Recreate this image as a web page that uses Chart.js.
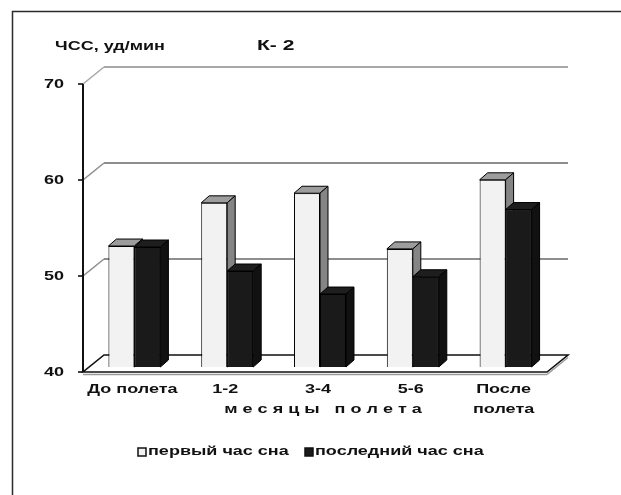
<!DOCTYPE html>
<html>
<head>
<meta charset="utf-8">
<script src="https://cdn.jsdelivr.net/npm/chart.js@4.4.1/dist/chart.umd.min.js"></script>
<style>
  html, body { margin: 0; padding: 0; background: #fff; }
  #wrap { width: 621px; height: 495px; position: relative; }
</style>
</head>
<body>
<div id="wrap"><canvas id="c" width="621" height="495"></canvas></div>
<script>
// Heart rate during sleep, subject K-2
const categories = [['До полета'], ['1-2'], ['3-4'], ['5-6'], ['После', 'полета']];
const firstHour = [52.6, 57.1, 58.1, 52.3, 59.5];
const lastHour = [52.5, 50.0, 47.6, 49.4, 56.4];
const seriesNames = ['первый час сна', 'последний час сна'];
const yTicks = [40, 50, 60, 70];
const yTitle = 'ЧСС, уд/мин';
const chartTitle = 'К- 2';
const xTitle = 'м е с я ц ы   п о л е т а';

// pseudo-3D geometry
const WALL = { x: 21, y: -17 };      // depth of the back wall
const SHIFT = { x: 5, y: -5 };       // bars sit a little behind the front plane
const BAR = { x: 8, y: -7 };         // depth of each column
const SX = 1.5;                      // wide lettering
const FONT = '"Liberation Sans", Arial, sans-serif';

const faceColors = [
  { top: '#9d9d9d', side: '#858585' },
  { top: '#1e1e1e', side: '#111111' }
];

function wideText(ctx, text, x, y, align, font, sx) {
  ctx.save();
  ctx.font = font;
  ctx.textBaseline = 'middle';
  ctx.textAlign = 'left';
  const w = ctx.measureText(text).width * sx;
  const left = align === 'center' ? x - w / 2 : align === 'right' ? x - w : x;
  ctx.translate(left, y);
  ctx.scale(sx, 1);
  ctx.fillStyle = '#111';
  ctx.fillText(text, 0, 0);
  ctx.restore();
}

function line(ctx, x1, y1, x2, y2, color, w) {
  ctx.beginPath();
  ctx.moveTo(x1, y1);
  ctx.lineTo(x2, y2);
  ctx.strokeStyle = color;
  ctx.lineWidth = w;
  ctx.stroke();
}

function drawFaces(ctx, el, fc) {
  const p = el.getProps(['x', 'y', 'base', 'width'], true);
  const l = p.x - p.width / 2, r = p.x + p.width / 2;
  ctx.lineWidth = 1;
  ctx.strokeStyle = '#000';
  // top face
  ctx.beginPath();
  ctx.moveTo(l, p.y);
  ctx.lineTo(l + BAR.x, p.y + BAR.y);
  ctx.lineTo(r + BAR.x, p.y + BAR.y);
  ctx.lineTo(r, p.y);
  ctx.closePath();
  ctx.fillStyle = fc.top;
  ctx.fill();
  ctx.stroke();
  // side face
  ctx.beginPath();
  ctx.moveTo(r, p.y);
  ctx.lineTo(r + BAR.x, p.y + BAR.y);
  ctx.lineTo(r + BAR.x, p.base + BAR.y);
  ctx.lineTo(r, p.base);
  ctx.closePath();
  ctx.fillStyle = fc.side;
  ctx.fill();
  ctx.stroke();
}

const scene = {
  id: 'scene',
  beforeDatasetsDraw(chart) {
    const ctx = chart.ctx;
    const ca = chart.chartArea;
    const ys = chart.scales.y;
    ctx.save();
    // frame
    ctx.strokeStyle = '#2a2a2a';
    ctx.lineWidth = 1.5;
    ctx.strokeRect(12.5, 11.5, 660, 520);

    // floor slab
    const yb = ys.getPixelForValue(yTicks[0]);
    ctx.beginPath();
    ctx.moveTo(ca.left, yb);
    ctx.lineTo(ca.right, yb);
    ctx.lineTo(ca.right + WALL.x, yb + WALL.y);
    ctx.lineTo(ca.left + WALL.x, yb + WALL.y);
    ctx.closePath();
    ctx.fillStyle = '#fff';
    ctx.fill();
    line(ctx, ca.left, yb + 2.5, ca.right, yb + 2.5, '#9a9a9a', 1.5);
    line(ctx, ca.right, yb + 2.5, ca.right + WALL.x, yb + WALL.y + 2.5, '#9a9a9a', 1.5);
    ctx.strokeStyle = '#111';
    ctx.lineWidth = 1.6;
    ctx.beginPath();
    ctx.moveTo(ca.left, yb);
    ctx.lineTo(ca.right, yb);
    ctx.lineTo(ca.right + WALL.x, yb + WALL.y);
    ctx.lineTo(ca.left + WALL.x, yb + WALL.y);
    ctx.closePath();
    ctx.stroke();

    // back wall gridlines and left-wall diagonals
    yTicks.slice(1).forEach(v => {
      const y = ys.getPixelForValue(v);
      const c = v === yTicks[yTicks.length - 1] ? '#a8a8a8' : '#8e8e8e';
      line(ctx, ca.left + WALL.x, y + WALL.y, ca.right + WALL.x, y + WALL.y, c, 2);
      line(ctx, ca.left, y, ca.left + WALL.x, y + WALL.y, c, 1.6);
    });

    // value axis with ticks
    line(ctx, ca.left, ys.getPixelForValue(yTicks[yTicks.length - 1]), ca.left, yb, '#111', 2);
    yTicks.forEach(v => {
      const y = ys.getPixelForValue(v);
      line(ctx, ca.left - 5, y, ca.left, y, '#111', 1.6);
    });
    ctx.restore();
  },
  beforeDatasetDraw(chart) {
    chart.ctx.save();
    chart.ctx.translate(SHIFT.x, SHIFT.y);
  },
  afterDatasetDraw(chart) {
    chart.ctx.restore();
  },
  afterDatasetsDraw(chart) {
    // depth faces, series by series, so a later column covers the side of the one before it
    const ctx = chart.ctx;
    ctx.save();
    ctx.translate(SHIFT.x, SHIFT.y);
    chart.data.datasets.forEach((ds, i) => {
      const meta = chart.getDatasetMeta(i);
      meta.data.forEach(el => {
        if (i > 0) el.draw(ctx);
        drawFaces(ctx, el, faceColors[i]);
      });
    });
    ctx.restore();
  },
  afterDraw(chart) {
    const ctx = chart.ctx;
    const ys = chart.scales.y;
    const xs = chart.scales.x;
    const bold12 = 'bold 12px ' + FONT;

    wideText(ctx, yTitle, 55, 47, 'left', bold12, SX);
    wideText(ctx, chartTitle, 257, 46, 'left', 'bold 15px ' + FONT, 1.4);

    yTicks.forEach(v => {
      wideText(ctx, String(v), 64, ys.getPixelForValue(v) + 1, 'right', bold12, SX);
    });

    categories.forEach((lab, i) => {
      const x = xs.getPixelForValue(i) + 3;
      lab.forEach((s, k) => wideText(ctx, s, x, 390 + k * 20, 'center', bold12, SX));
    });
    wideText(ctx, xTitle, 323, 410, 'center', bold12, SX);

    // legend
    const ds = chart.data.datasets;
    const items = [{ box: 138, text: 148 }, { box: 305, text: 315 }];
    items.forEach((it, i) => {
      ctx.save();
      ctx.fillStyle = ds[i].backgroundColor;
      ctx.strokeStyle = '#111';
      ctx.lineWidth = 1.5;
      ctx.fillRect(it.box, 448, 8, 8);
      ctx.strokeRect(it.box, 448, 8, 8);
      ctx.restore();
      wideText(ctx, ds[i].label, it.text, 452, 'left', bold12, SX);
    });
  }
};

new Chart(document.getElementById('c'), {
  type: 'bar',
  data: {
    labels: categories,
    datasets: [
      {
        label: seriesNames[0],
        data: firstHour,
        base: yTicks[0],
        backgroundColor: '#f2f2f2',
        borderColor: '#000',
        borderWidth: 1,
        categoryPercentage: 0.56,
        barPercentage: 1
      },
      {
        label: seriesNames[1],
        data: lastHour,
        base: yTicks[0],
        backgroundColor: '#1a1a1a',
        borderColor: '#000',
        borderWidth: 1,
        categoryPercentage: 0.56,
        barPercentage: 1
      }
    ]
  },
  options: {
    responsive: false,
    animation: false,
    layout: { padding: { left: 83, top: 84, right: 74, bottom: 123 } },
    scales: {
      x: { display: false },
      y: { display: false, min: yTicks[0], max: yTicks[yTicks.length - 1] }
    },
    plugins: {
      legend: { display: false },
      tooltip: { enabled: false }
    }
  },
  plugins: [scene]
});
</script>
</body>
</html>
